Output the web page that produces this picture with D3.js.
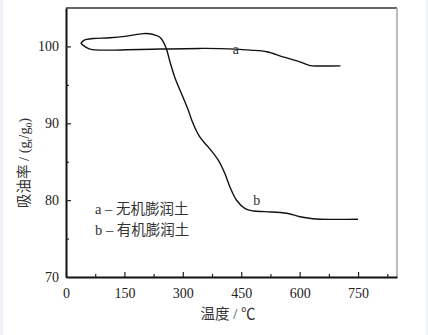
<!DOCTYPE html>
<html>
<head>
<meta charset="utf-8">
<script src="https://cdn.jsdelivr.net/npm/d3@7"></script>
<style>
  html, body { margin: 0; padding: 0; background: #fff; }
  svg { display: block; }
</style>
</head>
<body>
<div id="chart"></div>
<script>
// Oil absorption vs. temperature for two bentonites
const tempA = [38, 45, 53, 62, 75, 113, 156, 241, 344, 396, 473, 516, 557, 601, 627, 650, 705];
const valA  = [100.4, 100.1, 99.85, 99.65, 99.55, 99.52, 99.56, 99.66, 99.74, 99.72, 99.52, 99.3, 98.65, 98.0, 97.5, 97.45, 97.47];

const tempB = [38, 45, 53, 70, 113, 156, 198, 215, 229, 241, 250, 259, 267, 280, 297, 314, 323, 336, 344, 357, 365, 391, 408, 421, 438, 460, 481, 511, 567, 601, 634, 652, 700, 750];
const valB  = [100.4, 100.75, 100.91, 101.04, 101.12, 101.34, 101.67, 101.65, 101.47, 101.2, 100.6, 99.5, 98.0, 95.9, 93.8, 91.7, 90.4, 88.9, 88.2, 87.37, 86.93, 85.2, 83.46, 81.72, 79.99, 78.9, 78.59, 78.5, 78.3, 77.84, 77.58, 77.51, 77.5, 77.51];

const xTicks = [0, 150, 300, 450, 600, 750];
const xMinor = [75, 225, 375, 525, 675, 825];
const yTicks = [70, 80, 90, 100];
const yMinor = [75, 85, 95];
const legendLines = ["a – 无机膨润土", "b – 有机膨润土"];

const W = 428, H = 335;
const m = { left: 66, top: 8, right: 31, bottom: 58 };
const iw = W - m.left - m.right, ih = H - m.top - m.bottom;

const svg = d3.select("#chart").append("svg").attr("width", W).attr("height", H);

// faint side strips of the page
svg.append("rect").attr("x", 0).attr("y", 0).attr("width", 3).attr("height", H).attr("fill", "#edf3f8");
svg.append("rect").attr("x", W - 2).attr("y", 0).attr("width", 2).attr("height", H).attr("fill", "#edf3f8");

const g = svg.append("g").attr("transform", `translate(${m.left},${m.top})`);

const x = d3.scaleLinear().domain([0, 850]).range([0, iw]);
const y = d3.scaleLinear().domain([70, 105]).range([ih, 0]);

const serif = "'Liberation Serif', 'Times New Roman', 'DejaVu Serif', serif";
const cjk = "'Liberation Serif', 'Times New Roman', 'Noto Sans CJK SC', serif";

// frame: top dark, right light grey
g.append("line").attr("x1", 0).attr("x2", iw).attr("y1", 0).attr("y2", 0)
  .attr("stroke", "#333").attr("stroke-width", 1.5);
g.append("line").attr("x1", iw).attr("x2", iw).attr("y1", 0).attr("y2", ih)
  .attr("stroke", "#aaa").attr("stroke-width", 1.6);

// bottom axis with inward ticks
const xAxis = g.append("g").attr("transform", `translate(0,${ih})`)
  .call(d3.axisBottom(x).tickValues(xTicks).tickSizeInner(-5).tickSizeOuter(0).tickPadding(11));
xAxis.selectAll(".tick text").style("font-family", serif).style("font-size", "14px").attr("fill", "#222");
g.append("g").attr("transform", `translate(0,${ih})`)
  .call(d3.axisBottom(x).tickValues(xMinor).tickSizeInner(-3).tickSizeOuter(0).tickFormat(""))
  .select(".domain").remove();

// left axis with inward ticks
const yAxis = g.append("g")
  .call(d3.axisLeft(y).tickValues(yTicks).tickSizeInner(-5).tickSizeOuter(0).tickPadding(7));
yAxis.selectAll(".tick text").style("font-family", serif).style("font-size", "14px").attr("fill", "#222");
g.append("g")
  .call(d3.axisLeft(y).tickValues(yMinor).tickSizeInner(-3).tickSizeOuter(0).tickFormat(""))
  .select(".domain").remove();

g.selectAll(".domain").attr("stroke", "#111").attr("stroke-width", 2);
g.selectAll(".tick line").attr("stroke", "#222").attr("stroke-width", 1.2);

// curves
const line = d3.line().x(d => x(d[0])).y(d => y(d[1])).curve(d3.curveCatmullRom.alpha(0.5));
const seriesA = tempA.map((t, i) => [t, valA[i]]);
const seriesB = tempB.map((t, i) => [t, valB[i]]);
[seriesA, seriesB].forEach(s => {
  g.append("path").datum(s).attr("d", line)
    .attr("fill", "none").attr("stroke", "#111").attr("stroke-width", 1.4);
});

// curve labels
g.append("text").attr("x", x(436)).attr("y", y(99.0)).attr("text-anchor", "middle")
  .style("font-family", serif).style("font-size", "14px").attr("fill", "#333").text("a");
g.append("text").attr("x", x(490)).attr("y", y(79.4)).attr("text-anchor", "middle")
  .style("font-family", serif).style("font-size", "14px").attr("fill", "#333").text("b");

// legend text
legendLines.forEach((t, i) => {
  g.append("text").attr("x", 95 - m.left).attr("y", 214 - m.top + i * 21)
    .style("font-family", cjk).style("font-size", "14.5px").attr("fill", "#333").text(t);
});

// axis titles
svg.append("text").attr("x", 228).attr("y", 319).attr("text-anchor", "middle")
  .style("font-family", cjk).style("font-size", "14.5px").attr("fill", "#333").text("温度 / ℃");

const yt = svg.append("text").attr("transform", "translate(29,163) rotate(-90)")
  .attr("text-anchor", "middle").style("font-family", cjk).style("font-size", "14.5px").attr("fill", "#333");
yt.append("tspan").text("吸油率 / (g");
yt.append("tspan").attr("dy", 3).style("font-size", "9px").text("t");
yt.append("tspan").attr("dy", -3).text("/g");
yt.append("tspan").attr("dy", 3).style("font-size", "9px").text("0");
yt.append("tspan").attr("dy", -3).text(")");
</script>
</body>
</html>
